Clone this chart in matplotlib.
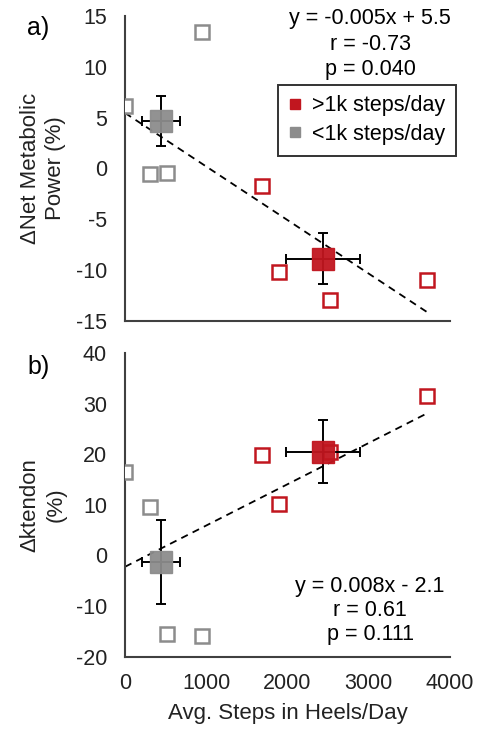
import numpy as np
import matplotlib.pyplot as plt
from matplotlib.lines import Line2D

plt.rcParams['font.family'] = ['Liberation Sans', 'DejaVu Sans']
plt.rcParams['axes.unicode_minus'] = False

# steps in heels per day for each subject
steps_low = [0, 944, 308, 513]
steps_high = [1690, 1900, 2523, 3713]

# a) change in net metabolic power (%)
met_low = [6.15, 13.4, -0.6, -0.5]
met_high = [-1.7, -10.2, -13.0, -11.0]

# b) change in k tendon (%)
kt_low = [16.5, -15.8, 9.5, -15.5]
kt_high = [19.8, 10.2, 20.5, 31.4]

# group means and sd
mean_steps = [439, 2437]
sd_steps = [232, 459]
met_mean = [4.65, -8.9]
met_sd = [2.45, 2.5]
kt_mean = [-1.3, 20.5]
kt_sd = [8.3, 6.2]

stats_a = ["y = -0.005x + 5.5", "r = -0.73", "p = 0.040"]
stats_b = ["y = 0.008x - 2.1", "r = 0.61", "p = 0.111"]

red = '#C1161F'
gray = '#8C8C8C'
axcol = '#404040'
txt = '#222222'

fig = plt.figure(figsize=(4.94, 7.29), dpi=100)
ax1 = fig.add_axes([0.253, 0.560, 0.658, 0.418])
ax2 = fig.add_axes([0.253, 0.099, 0.658, 0.417])


def panel(ax, low, high, mean, sd, ylim, yticks):
    allx = np.array(steps_low + steps_high)
    ally = np.array(low + high)
    k, b = np.polyfit(allx, ally, 1)
    xs = np.array([0, allx.max()])
    ax.plot(xs, k * xs + b, ls=(0, (4, 3)), color='black', lw=1.3, zorder=2)
    ax.plot(steps_low, low, 's', ms=10, mfc='white', mec=gray, mew=1.8, zorder=3)
    ax.plot(steps_high, high, 's', ms=10, mfc='white', mec=red, mew=1.8, zorder=3)
    for i, c in enumerate([gray, red]):
        ax.errorbar(mean_steps[i], mean[i], xerr=sd_steps[i], yerr=sd[i], fmt='none',
                    ecolor='black', elinewidth=1.4, capsize=3.5, capthick=1.4, zorder=4)
        ax.plot(mean_steps[i], mean[i], 's', ms=16, color=c, alpha=0.95, zorder=5)
    ax.set_xlim(0, 4000)
    ax.set_ylim(*ylim)
    ax.set_yticks(yticks)
    ax.set_xticks([0, 1000, 2000, 3000, 4000])
    for s in ['top', 'right']:
        ax.spines[s].set_visible(False)
    for s in ['left', 'bottom']:
        ax.spines[s].set_color(axcol)
        ax.spines[s].set_linewidth(1.5)
    ax.tick_params(length=0, labelsize=15.5, pad=13, colors=txt)
    ax.set_facecolor('none')
    ax.yaxis.set_label_coords(-0.18, 0.5)


panel(ax1, met_low, met_high, met_mean, met_sd, (-15, 15), [-15, -10, -5, 0, 5, 10, 15])
panel(ax2, kt_low, kt_high, kt_mean, kt_sd, (-20, 40), [-20, -10, 0, 10, 20, 30, 40])
ax1.set_xticklabels([])
ax2.tick_params(axis='x', pad=12)

ax1.set_ylabel("ΔNet Metabolic\nPower (%)", fontsize=16, color=txt, linespacing=1.3)
ax2.set_ylabel("Δktendon\n(%)", fontsize=16, color=txt, linespacing=1.3)
ax2.set_xlabel("Avg. Steps in Heels/Day", fontsize=16, color=txt, labelpad=6)

for i, t in enumerate(stats_a):
    fig.text(0.749, 0.974 - i * 0.035, t, fontsize=15.5, ha='center', va='center', color='black')
for i, t in enumerate(stats_b):
    fig.text(0.749, 0.195 - i * 0.033, t, fontsize=15.5, ha='center', va='center', color='black')

fig.text(0.055, 0.962, "a)", fontsize=18, va='center')
fig.text(0.055, 0.497, "b)", fontsize=18, va='center')

handles = [Line2D([], [], ls='none', marker='s', ms=7, color=red),
           Line2D([], [], ls='none', marker='s', ms=7, color=gray)]
leg = ax1.legend(handles, [">1k steps/day", "<1k steps/day"], loc='upper left',
                 bbox_to_anchor=(0.47, 0.775), fontsize=15.5, frameon=True, fancybox=False,
                 handlelength=0.6, handletextpad=0.5, borderpad=0.5, labelspacing=0.35,
                 borderaxespad=0)
leg.get_frame().set_edgecolor('black')
leg.get_frame().set_linewidth(1.4)

fig.savefig("out.png", dpi=100)
